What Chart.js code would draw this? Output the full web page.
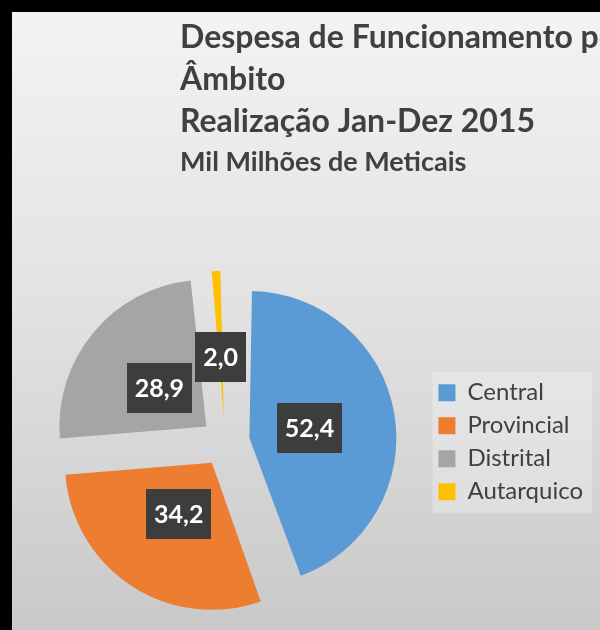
<!DOCTYPE html>
<html><head><meta charset="utf-8">
<script src="https://cdn.jsdelivr.net/npm/chart.js@4/dist/chart.umd.min.js"></script>
<style>
html,body{margin:0;padding:0;width:600px;height:630px;overflow:hidden;background:#000;}
#frame{position:absolute;left:12px;top:12px;width:588px;height:618px;background:linear-gradient(to bottom,#f3f3f3 0%,#e3e3e3 45%,#c9c9c9 100%);}
canvas{display:block}
</style></head><body>
<div id="frame"><canvas id="c" width="588" height="618"></canvas></div>
<script>
const categories = ['Central', 'Provincial', 'Distrital', 'Autarquico'];
const values = [52.4, 34.2, 28.9, 2.0];
const titleLines = ['Despesa de Funcionamento por', 'Âmbito', 'Realização Jan-Dez 2015'];
const subtitleText = 'Mil Milhões de Meticais';

const sliceColors = ['#5b9bd5', '#ed7d31', '#a5a5a5', '#ffc000'];
const FONT = 'Lato';
const RADIUS = 147;
const SHIFT = 24.5;      // visual explosion distance of every slice
const TITLE_X = 168;     // title left inside canvas
const fmt = v => v.toFixed(1).replace('.', ',');

// Chart.js moves an arc by offset/4 and also grows its radius by offset/4*fix; undo the growth
const radiusFix = {
  id: 'radiusFix',
  beforeDatasetsDraw(chart) {
    chart.getDatasetMeta(0).data.forEach(arc => {
      const off = (arc.options.offset || 0) / 4;
      const fix = 1 - Math.sin(Math.min(Math.PI, arc.circumference || 0));
      arc.outerRadius = RADIUS - off * fix;
    });
  }
};

const titlePlacer = {
  id: 'titlePlacer',
  afterLayout(chart) {
    chart.boxes.forEach(b => {
      if (b !== chart.legend && b.options && b.options.text !== undefined) {
        b.left = TITLE_X; b.right = TITLE_X + 1400; b.width = 1400;
      }
    });
  }
};

const legendBg = {
  id: 'legendBg',
  beforeDraw(chart) {
    const lg = chart.legend;
    if (!lg || !lg.legendHitBoxes || !lg.legendHitBoxes.length) return;
    const hb = lg.legendHitBoxes;
    const x0 = Math.min(...hb.map(h => h.left)) - 6;
    const y0 = Math.min(...hb.map(h => h.top)) - 9;
    const y1 = Math.max(...hb.map(h => h.top + h.height)) + 9;
    const ctx = chart.ctx;
    ctx.save();
    ctx.fillStyle = 'rgba(255,255,255,0.28)';
    ctx.fillRect(x0, y0, 580 - x0, y1 - y0);
    ctx.restore();
  }
};

const valueBoxes = {
  id: 'valueBoxes',
  afterDatasetsDraw(chart) {
    const ctx = chart.ctx;
    const meta = chart.getDatasetMeta(0);
    ctx.save();
    ctx.font = 'bold 25px ' + FONT;
    ctx.textAlign = 'center';
    ctx.textBaseline = 'middle';
    meta.data.forEach((arc, i) => {
      const p = arc.getProps(['x', 'y', 'startAngle', 'endAngle'], true);
      const mid = (p.startAngle + p.endAngle) / 2;
      const d = SHIFT + RADIUS * 0.415;
      const cx = p.x + Math.cos(mid) * d;
      const cy = p.y + Math.sin(mid) * d;
      const txt = fmt(values[i]);
      const w = ctx.measureText(txt).width + 16;
      const h = 50;
      ctx.fillStyle = '#3d3d3d';
      ctx.fillRect(Math.round(cx - w / 2), Math.round(cy - h / 2), Math.round(w), h);
      ctx.fillStyle = '#ffffff';
      ctx.fillText(txt, cx, cy + 1);
    });
    ctx.restore();
  }
};

new Chart(document.getElementById('c'), {
  type: 'pie',
  data: {
    labels: categories,
    datasets: [{
      data: values,
      backgroundColor: sliceColors,
      borderWidth: 0,
      offset: 4 * SHIFT,
      hoverOffset: 0,
      clip: false
    }]
  },
  options: {
    responsive: false,
    devicePixelRatio: 1,
    animation: false,
    radius: RADIUS,
    layout: { padding: { left: 9, right: 7, top: 0, bottom: 0 } },
    plugins: {
      title: {
        display: true,
        text: titleLines,
        align: 'start',
        color: '#404040',
        font: { family: FONT, size: 32, weight: 'bold', lineHeight: 1.3125 },
        padding: { top: 5, bottom: 0 }
      },
      subtitle: {
        display: true,
        text: subtitleText,
        align: 'start',
        color: '#404040',
        font: { family: FONT, size: 27, weight: 'bold', lineHeight: 1.2 },
        padding: { top: 3, bottom: 76 }
      },
      legend: {
        position: 'right',
        align: 'center',
        fullSize: false,
        labels: {
          color: '#404040',
          font: { family: FONT, size: 24 },
          boxWidth: 17,
          boxHeight: 17,
          padding: 9
        }
      },
      tooltip: { enabled: false }
    }
  },
  plugins: [radiusFix, titlePlacer, legendBg, valueBoxes]
});
</script>
</body></html>
